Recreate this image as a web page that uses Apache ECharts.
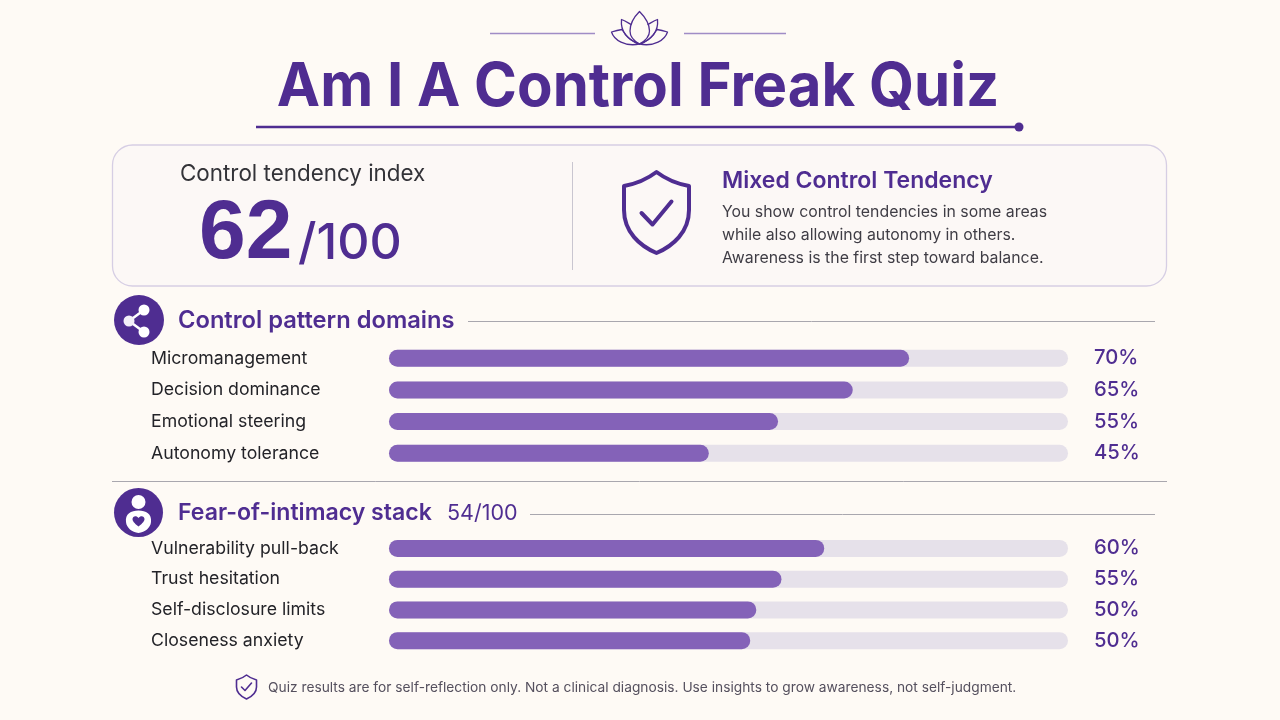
<!DOCTYPE html>
<html>
<head>
<meta charset="utf-8">
<style>html,body{margin:0;padding:0;background:#fefaf5}#c{width:1280px;height:720px}</style>
<script src="https://cdn.jsdelivr.net/npm/echarts@6/dist/echarts.min.js"></script>
</head>
<body>
<div id="c"></div>
<script>
const controlCategories = ['Micromanagement','Decision dominance','Emotional steering','Autonomy tolerance'];
const controlBarLengths = [76.6, 68.3, 57.3, 47.1];
const controlLabels = ['70%','65%','55%','45%'];
const intimacyCategories = ['Vulnerability pull-back','Trust hesitation','Self-disclosure limits','Closeness anxiety'];
const intimacyBarLengths = [64.1, 57.8, 54.1, 53.2];
const intimacyLabels = ['60%','55%','50%','50%'];
const trackValue = 100;

const PURPLE = '#4f2d91', FILL = '#8462b8', TRACK = '#e6e1ea', FONT = 'Inter', HEAD = '"Liberation Sans"';
const chart = echarts.init(document.getElementById('c'), null, {renderer:'canvas'});

function txt(text, x, y, size, weight, fill, extra, family){
  return {type:'text', silent:true, style:Object.assign({text, x, y, font:`${weight} ${size}px ${family||FONT}`, fill, verticalAlign:'middle', align:'left'}, extra||{})};
}
function ln(x1,y1,x2,y2,stroke,w){
  return {type:'line', silent:true, shape:{x1,y1,x2,y2}, style:{stroke, lineWidth:w}};
}
let iconCount = 0;
function icon(d, fill, stroke, w){
  const name = 'iconShape' + (iconCount++);
  echarts.graphic.registerShape(name, echarts.graphic.extendPath(d, {}));
  return {type:name, silent:true, style:{fill:fill||'none', stroke:stroke||'none', lineWidth:w||0, lineJoin:'round', lineCap:'round'}};
}
function circ(cx,cy,r,fill){
  return {type:'circle', silent:true, shape:{cx,cy,r}, style:{fill}};
}

const titleText = Object.assign(txt('Am I A Control Freak Quiz', 0, 0, 60, 700, PURPLE, {align:'center'}), {x:638, y:88, scaleX:0.968});

const graphics = [
  ln(490,33.5,595,33.5,'#a08cc6',1.4), ln(684,33.5,786,33.5,'#a08cc6',1.4),
  icon('M639.5 11.5 C633 18 630 25 630 31 C630 37 634 41 639.5 44 C645 41 649.5 37 649.5 31 C649.5 25 646 18 639.5 11.5 Z','none',PURPLE,1.3),
  icon('M631 24.5 C627.5 22.5 624.5 20.5 621.5 19.5 C620.5 30 626 39 639.5 44','none',PURPLE,1.3),
  icon('M648 24.5 C651.5 22.5 654.5 20.5 657.5 19.5 C658.5 30 653 39 639.5 44','none',PURPLE,1.3),
  icon('M611.5 32 C614 40 625 47 639.5 44 C631 42 626 36 622 29.5 C618 30 614.5 31 611.5 32 Z','none',PURPLE,1.3),
  icon('M667.5 32 C665 40 654 47 639.5 44 C648 42 653 36 657 29.5 C661 30 664.5 31 667.5 32 Z','none',PURPLE,1.3),
  titleText,
  ln(256,127,1018,127,PURPLE,2.4), circ(1019,127,4.5,PURPLE),

  {type:'rect', silent:true, shape:{x:112.5,y:145,width:1054,height:141,r:20}, style:{fill:'#fcf8f6', stroke:'#d6cee4', lineWidth:1.3}},
  txt('Control tendency index',180,174,22.4,400,'#333338'),
  txt('62',199,234.5,84,700,PURPLE,null,HEAD),
  txt('/100',298,243.5,50,500,PURPLE),
  ln(572.5,162,572.5,270,'#c9c6d0',1),
  icon('M656.5 172 C646 180 635 184 624 186 L624 210 C624 232 640 246 656.5 253 C673 246 689 232 689 210 L689 186 C678 184 667 180 656.5 172 Z','none',PURPLE,4),
  icon('M641.5 213 L652.5 224.5 L671.5 201.5','none',PURPLE,4),
  txt('Mixed Control Tendency',722,181.5,23,600,PURPLE),
  txt('You show control tendencies in some areas',722,212.5,15.85,400,'#3f3d45'),
  txt('while also allowing autonomy in others.',722,235.5,15.85,400,'#3f3d45'),
  txt('Awareness is the first step toward balance.',722,258.5,15.85,400,'#3f3d45'),

  circ(139,320,25,PURPLE),
  ln(129,321,144,310,'#fff',2.6), ln(129,321,144,332,'#fff',2.6),
  circ(129,321,5.5,'#f3eff8'), circ(144,310,5.5,'#fff'), circ(144,332,5.5,'#fff'),
  txt('Control pattern domains',178,320.5,23.7,600,PURPLE),
  ln(468,321.5,1155,321.5,'#a9a7ae',1),

  ln(112,481.5,1167,481.5,'#a9a7ae',1),

  circ(138.5,512.5,24.5,PURPLE),
  circ(138.5,502,7,'#fff'),
  icon('M126 522 C125 514 131 510.5 138.5 510.5 C146 510.5 152 514 151 522 C150.5 528 145 532 138.5 533 C132 532 126.5 528 126 522 Z','#fff'),
  icon('M138.5 526.5 C134 523 132.5 521 132.5 519 C132.5 516 136.5 515 138.5 518 C140.5 515 144.5 516 144.5 519 C144.5 521 143 523 138.5 526.5 Z',PURPLE),
  txt('Fear-of-intimacy stack',178,513.5,23.1,600,PURPLE),
  txt('54/100',447,513.5,21.5,400,PURPLE),
  ln(530,514.5,1155,514.5,'#a9a7ae',1),

  icon('M246.5 675 C243 678 240 679 236.5 680 L236.5 687 C236.5 693 241 696.5 246.5 699 C252 696.5 256.5 693 256.5 687 L256.5 680 C253 679 250 678 246.5 675 Z','none',PURPLE,1.6),
  icon('M241.5 687 L245 690.5 L251.5 683','none',PURPLE,1.6),
  txt('Quiz results are for self-reflection only. Not a clinical diagnosis. Use insights to grow awareness, not self-judgment.',268,687.5,13.75,400,'#55505e')
];

function yAxis(gridIndex, data){
  return {type:'category', gridIndex, inverse:true, data,
    axisLine:{show:false}, axisTick:{show:false}, splitLine:{show:false},
    axisLabel:{align:'left', margin:238, fontFamily:FONT, fontSize:17.7, color:'#232328', padding:[3,0,0,0]}};
}
function xAxis(gridIndex){
  return {type:'value', gridIndex, min:0, max:100, show:false};
}
function series(idx, lengths, labels){
  return [
    {type:'bar', xAxisIndex:idx, yAxisIndex:idx, data:lengths.map(()=>trackValue), barWidth:17, barGap:'-100%', silent:true,
      itemStyle:{color:TRACK, borderRadius:8.5},
      label:{show:true, position:'right', distance:26, formatter:p=>labels[p.dataIndex], fontFamily:FONT, fontSize:20.2, fontWeight:500, color:PURPLE, padding:[3,0,0,0]}},
    {type:'bar', xAxisIndex:idx, yAxisIndex:idx, data:lengths, barWidth:17, barGap:'-100%', silent:true,
      itemStyle:{color:FILL, borderRadius:8.5}}
  ];
}

chart.setOption({
  animation:false,
  backgroundColor:'#fefaf5',
  grid:[
    {left:389, width:679, top:342.5, height:126.5},
    {left:389, width:679, top:533, height:123}
  ],
  xAxis:[xAxis(0), xAxis(1)],
  yAxis:[yAxis(0,controlCategories), yAxis(1,intimacyCategories)],
  series:[...series(0,controlBarLengths,controlLabels), ...series(1,intimacyBarLengths,intimacyLabels)],
  graphic:graphics
});
</script>
</body>
</html>
